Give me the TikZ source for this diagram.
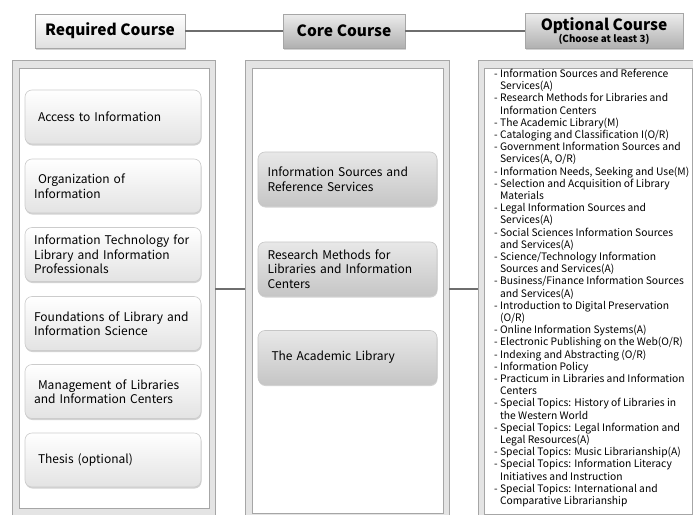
\documentclass[tikz,border=0pt]{standalone}
\usepackage{fontspec}
\setmainfont{Noto Sans CJK KR}
\usetikzlibrary{shadows}
\definecolor{linegray}{HTML}{6E6E6E}
\definecolor{panelgray}{HTML}{D9D9D9}
\definecolor{edgegray}{HTML}{A6A6A6}
\begin{document}
\begin{tikzpicture}[x=1pt,y=-1pt,
  hdr/.style={draw=edgegray, line width=0.7pt, inner sep=0pt,
    drop shadow={shadow xshift=1pt, shadow yshift=-1.5pt, opacity=0.35}},
  hdrlight/.style={hdr, top color=white, bottom color=gray!25},
  hdrdark/.style={hdr, top color=gray!15, bottom color=gray!62},
  outerpanel/.style={draw=edgegray, fill=panelgray!70, line width=0.7pt, inner sep=0pt},
  innerpanel/.style={draw=edgegray, fill=white, line width=0.7pt, inner sep=0pt},
  lbox/.style={rounded corners=7pt, draw=gray!40, line width=0.6pt, top color=white, bottom color=gray!22,
    minimum width=176pt, minimum height=54pt, text width=158pt, align=left, inner sep=0pt,
    font=\fontsize{12}{14.5}\selectfont,
    drop shadow={shadow xshift=0.5pt, shadow yshift=-1.5pt, opacity=0.35}},
  mbox/.style={lbox, top color=gray!18, bottom color=gray!45, draw=gray!45, minimum width=179pt, text width=160pt},
  conn/.style={draw=linegray, line width=2.6pt}
]
\useasboundingbox (0,0) rectangle (693,514);

% panels
\node[outerpanel, minimum width=203pt, minimum height=458pt] (reqp) at (113.5,289) {};
\node[innerpanel, minimum width=190pt, minimum height=440pt] (reqi) at (114,288) {};
\node[outerpanel, minimum width=204pt, minimum height=458pt] (corep) at (347,289) {};
\node[innerpanel, minimum width=191pt, minimum height=445pt] (corei) at (347.5,290.5) {};
\node[outerpanel, minimum width=222pt, minimum height=458pt] (optp) at (589,289) {};
\node[innerpanel, minimum width=208pt, minimum height=446pt] (opti) at (588,291) {};

% panel connectors
\draw[conn] (reqp.east) -- (reqp.east -| corep.west);
\draw[conn] (corep.east) -- (corep.east -| optp.west);

% headers
\node[hdrlight, minimum width=150pt, minimum height=34pt, font=\fontsize{15.5}{18}\bfseries] (req) at (110,31) {Required Course};
\node[hdrdark, minimum width=122pt, minimum height=34pt, font=\fontsize{15.5}{18}\bfseries] (core) at (344,31) {Core Course};
\node[hdrdark, minimum width=158pt, minimum height=35pt, align=center] (opt) at (604,31)
  {{\fontsize{15.5}{16}\bfseries Optional Course}\\[-0.5pt]{\fontsize{9.8}{10}\bfseries (Choose at least 3)}};
\draw[conn] (req.east) -- (core.west);
\draw[conn] (core.east) -- (opt.west);

% required courses
\node[lbox] (r1) at (113,117) {\hspace{4pt}Access to Information};
\node[lbox] (r2) at (113,186) {\hspace{4pt}Organization of\\Information};
\node[lbox] (r3) at (113,254.5) {Information Technology for\\Library and Information\\Professionals};
\node[lbox] (r4) at (113,323.5) {Foundations of Library and\\Information Science};
\node[lbox] (r5) at (113,391.5) {\hspace{4pt}Management of Libraries\\and Information Centers};
\node[lbox] (r6) at (113,460) {\hspace{4pt}Thesis (optional)};

% core courses
\node[mbox] (c1) at (347.5,179) {Information Sources and\\Reference Services};
\node[mbox] (c2) at (347.5,269) {Research Methods for\\Libraries and Information\\Centers};
\node[mbox] (c3) at (347.5,357.5) {\hspace{4pt}The Academic Library};

% optional list
\node[anchor=north west, inner sep=0pt, align=left, font=\fontsize{10.3}{12.2}\selectfont] (olist) at (494,69) {%
- Information Sources and Reference\\
\hphantom{- }Services(A)\\
- Research Methods for Libraries and\\
\hphantom{- }Information Centers\\
- The Academic Library(M)\\
- Cataloging and Classification I(O/R)\\
- Government Information Sources and\\
\hphantom{- }Services(A, O/R)\\
- Information Needs, Seeking and Use(M)\\
- Selection and Acquisition of Library\\
\hphantom{- }Materials\\
- Legal Information Sources and\\
\hphantom{- }Services(A)\\
- Social Sciences Information Sources\\
\hphantom{- }and Services(A)\\
- Science/Technology Information\\
\hphantom{- }Sources and Services(A)\\
- Business/Finance Information Sources\\
\hphantom{- }and Services(A)\\
- Introduction to Digital Preservation\\
\hphantom{- }(O/R)\\
- Online Information Systems(A)\\
- Electronic Publishing on the Web(O/R)\\
- Indexing and Abstracting (O/R)\\
- Information Policy\\
- Practicum in Libraries and Information\\
\hphantom{- }Centers\\
- Special Topics: History of Libraries in\\
\hphantom{- }the Western World\\
- Special Topics: Legal Information and\\
\hphantom{- }Legal Resources(A)\\
- Special Topics: Music Librarianship(A)\\
- Special Topics: Information Literacy\\
\hphantom{- }Initiatives and Instruction\\
- Special Topics: International and\\
\hphantom{- }Comparative Librarianship};
\end{tikzpicture}
\end{document}
